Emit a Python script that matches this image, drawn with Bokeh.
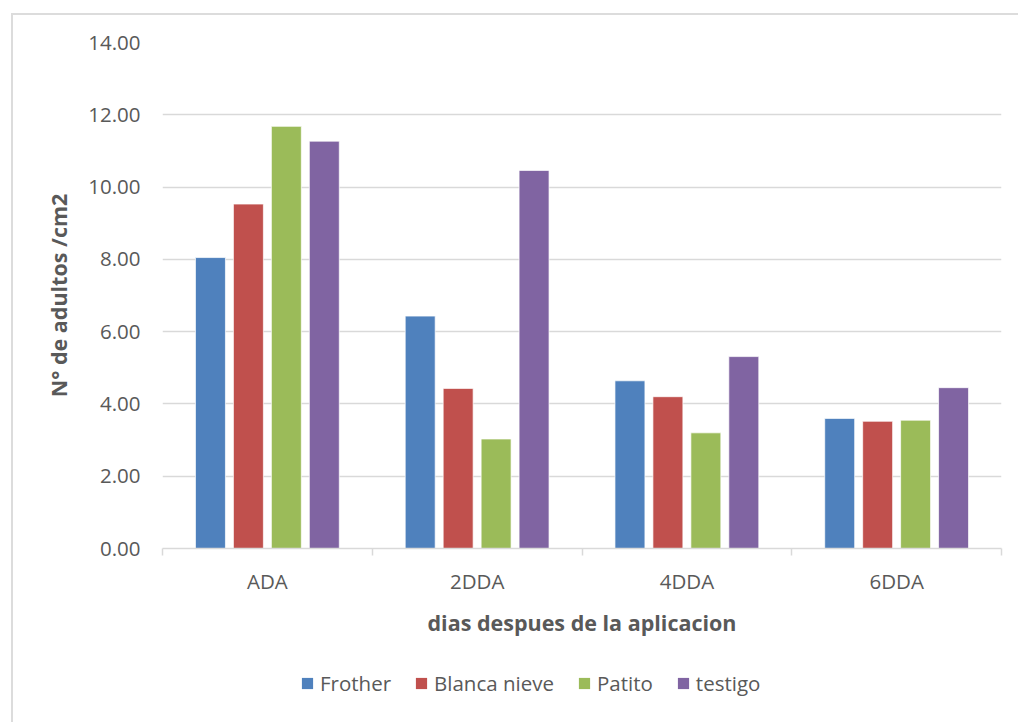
import numpy as np
from bokeh.plotting import figure
from bokeh.layouts import column
from bokeh.models import (ColumnDataSource, Range1d, FixedTicker, Legend, LegendItem,
                          NumeralTickFormatter)
from bokeh.embed import file_html
from bokeh.resources import INLINE

# Adults per cm2 counted after each application
categories = ["ADA", "2DDA", "4DDA", "6DDA"]
frother = [8.05, 6.43, 4.64, 3.60]
blanca_nieve = [9.53, 4.43, 4.20, 3.52]
patito = [11.68, 3.03, 3.20, 3.55]
testigo = [11.27, 10.46, 5.31, 4.45]
y_ticks = [0, 2, 4, 6, 8, 10, 12, 14]

series = [
    ("Frother", frother, "#4F81BD"),
    ("Blanca nieve", blanca_nieve, "#C0504D"),
    ("Patito", patito, "#9BBB59"),
    ("testigo", testigo, "#8064A2"),
]

TEXT = "#595959"
GRID = "#D9D9D9"
FONT = "Open Sans"
W = 1005

p = figure(width=W, height=640, output_backend="svg", toolbar_location=None,
           x_range=Range1d(0, len(categories)), y_range=Range1d(0, 14),
           min_border_left=149, min_border_right=17, min_border_top=27,
           min_border_bottom=107)
p.outline_line_color = None
p.background_fill_color = "white"
p.border_fill_color = "white"

# bar geometry within each category slot
bar_w = 30 / 210
gap = 8 / 210
n = len(series)
centers = np.arange(len(categories)) + 0.5
for k, (name, vals, color) in enumerate(series):
    off = (k - (n - 1) / 2) * (bar_w + gap)
    src = ColumnDataSource(dict(x=centers + off, top=vals))
    p.vbar(x="x", top="top", width=bar_w, bottom=0, source=src,
           fill_color=color, line_color="white", line_alpha=0.7, line_width=1)

# y axis
p.yaxis.ticker = FixedTicker(ticks=y_ticks)
p.yaxis.formatter = NumeralTickFormatter(format="0.00")
p.yaxis.axis_line_color = None
p.yaxis.major_tick_line_color = None
p.yaxis.minor_tick_line_color = None
p.yaxis.major_tick_out = 0
p.yaxis.major_label_standoff = 22
p.yaxis.major_label_text_font = FONT
p.yaxis.major_label_text_font_size = "20.5px"
p.yaxis.major_label_text_color = TEXT
p.yaxis.axis_label = "N° de adultos /cm2"
p.yaxis.axis_label_text_font = FONT
p.yaxis.axis_label_text_font_style = "bold"
p.yaxis.axis_label_text_font_size = "21.5px"
p.yaxis.axis_label_text_color = TEXT
p.yaxis.axis_label_standoff = 12

p.ygrid.ticker = FixedTicker(ticks=y_ticks)
p.ygrid.grid_line_color = GRID
p.ygrid.grid_line_width = 1.5
p.xgrid.grid_line_color = None

# x axis: labels at slot centres, tick marks at slot boundaries
p.xaxis.ticker = FixedTicker(ticks=list(centers),
                             minor_ticks=list(range(len(categories) + 1)))
p.xaxis.major_label_overrides = {float(c): lab for c, lab in zip(centers, categories)}
p.xaxis.axis_line_color = GRID
p.xaxis.axis_line_width = 1.5
p.xaxis.major_tick_line_color = None
p.xaxis.major_tick_out = 0
p.xaxis.minor_tick_line_color = GRID
p.xaxis.minor_tick_line_width = 1.5
p.xaxis.minor_tick_out = 7
p.xaxis.minor_tick_in = 0
p.xaxis.major_label_standoff = 11
p.xaxis.major_label_text_font = FONT
p.xaxis.major_label_text_font_size = "20.5px"
p.xaxis.major_label_text_color = TEXT
p.xaxis.axis_label = "dias despues de la aplicacion"
p.xaxis.axis_label_text_font = FONT
p.xaxis.axis_label_text_font_style = "bold"
p.xaxis.axis_label_text_font_size = "21.5px"
p.xaxis.axis_label_text_color = TEXT
p.xaxis.axis_label_standoff = 10

# legend strip underneath the chart; each swatch renderer holds a single
# zero-size bar so the legend has a datum to take its colours from
lg = figure(width=W, height=67, output_backend="svg", toolbar_location=None,
            x_range=Range1d(0, 1), y_range=Range1d(0, 1),
            x_axis_location=None, y_axis_location=None,
            min_border_left=0, min_border_right=0, min_border_top=0,
            min_border_bottom=0)
lg.outline_line_color = None
lg.grid.visible = False
lg.background_fill_color = "white"
lg.border_fill_color = "white"
items = []
for name, vals, color in series:
    swatch = lg.vbar(x=[0], top=[0], bottom=0, width=0, fill_color=color,
                     line_color="white", line_alpha=0, line_width=1)
    items.append(LegendItem(label=name, renderers=[swatch]))
legend = Legend(items=items, orientation="horizontal", location=(138, 25),
                glyph_width=14, glyph_height=14, label_standoff=6, spacing=23,
                padding=0, margin=0, border_line_color=None,
                background_fill_alpha=0,
                label_text_font=FONT, label_text_font_size="20.5px",
                label_text_color=TEXT)
lg.add_layout(legend, "center")

page = column(p, lg, spacing=0,
              styles={"margin-left": "11px", "margin-top": "13px",
                      "border-left": "2px solid #DCDCDC",
                      "border-top": "2px solid #DCDCDC"})

open("out.html", "w").write(file_html(page, INLINE))
